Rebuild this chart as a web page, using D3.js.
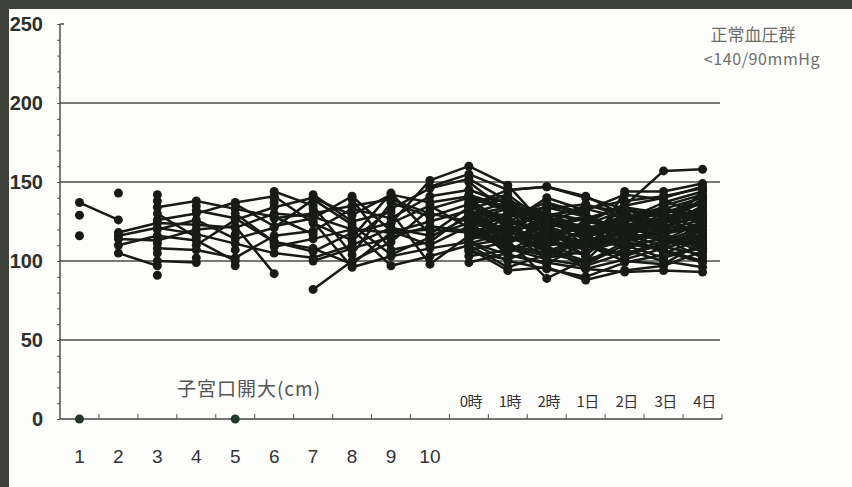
<!DOCTYPE html>
<html>
<head>
<meta charset="utf-8">
<script src="https://cdn.jsdelivr.net/npm/d3@7/dist/d3.min.js"></script>
<style>
  html, body { margin: 0; padding: 0; background: #fdfdfc; }
  svg { display: block; }
</style>
</head>
<body>
<svg id="chart" width="852" height="487"></svg>
<script>
// Categories: cervical dilation (cm) during labour, then hours / days after delivery
const dilationLabels = ["1", "2", "3", "4", "5", "6", "7", "8", "9", "10"];
const postpartumLabels = ["0時", "1時", "2時", "1日", "2日", "3日", "4日"];
const categories = dilationLabels.concat(postpartumLabels);

const yTicks = [0, 50, 100, 150, 200, 250];
const gridValues = [50, 100, 150, 200];

// Blood pressure per patient, labour readings (cm 1–10) followed by postpartum readings
const labourPatients = [
  [137, 126, null, null, null, null, null, null, null, null,  null, null, null, null, null, null, null],
  [129, null, null, null, null, null, null, null, null, null,  null, null, null, null, null, null, null],
  [116, null, null, null, null, null, null, null, null, null,  null, null, null, null, null, null, null],
  [0, null, null, null, null, null, null, null, null, null,  null, null, null, null, null, null, null],
  [null, 143, null, null, null, null, null, null, null, null,  null, null, null, null, null, null, null],
  [null, 118, 124, 123, 121, 130, 128, 120, 118, 125,  132, 125, 118, 120, 122, 126, 130],
  [null, 116, 121, 117, 111, 105, 102, 110, 121, 116,  124, 118, 112, 108, 115, 117, 122],
  [null, 114, 113, 120, 122, 92, null, null, null, null,  null, null, null, null, null, null, null],
  [null, 110, 116, 113, 100, null, null, null, null, null,  null, null, null, null, null, null, null],
  [null, 105, 97, null, null, null, null, null, null, null,  null, null, null, null, null, null, null],
  [null, null, 142, null, null, null, null, null, null, null,  null, null, null, null, null, null, null],
  [null, null, 126, 130, 137, 141, 124, 113, 133, 146,  152, 138, 130, 126, 135, 140, 147],
  [null, null, 120, 126, 114, 121, 139, 123, 104, 115,  128, 116, 110, 112, 118, 113, 125],
  [null, null, 108, 107, 102, 116, 119, 133, 127, 141,  145, 137, 125, 119, 129, 121, 135],
  [null, null, null, 132, 127, 112, 108, 98, 118, 120,  118, 108, 101, 97, 105, 110, 117],
  [null, null, null, null, 136, 122, 127, 141, 119, 110,  122, 130, 134, 128, 120, 124, 131],
  [null, null, null, null, null, 144, 135, 104, 137, 128,  136, 142, 124, 118, 113, 129, 120],
  [null, null, null, null, null, null, 82, 100, 112, 133,  140, 121, 113, 104, 126, 133, 140],
  [null, null, null, null, null, 109, 114, 120, 97, 103,  110, 96, 104, 115, 111, 107, 100],
  [null, null, null, null, null, null, 142, 125, 131, 98,  116, 124, 140, 132, 142, 139, 128],
  [null, null, null, null, null, null, 100, 108, 115, 122,  119, 112, 126, 122, 108, 115, 110],
  [null, null, null, null, null, null, null, 139, 107, 112,  130, 119, 108, 100, 124, 118, 145],
  [null, null, 134, 138, 133, 128, 117, null, null, null,  null, null, null, null, null, null, null],
  [null, null, 100, 99, null, null, null, null, null, null,  null, null, null, null, null, null, null],
  [null, null, 130, 115, null, null, null, null, null, null,  null, null, null, null, null, null, null],
  [null, null, null, 110, 126, 134, 140, 129, 142, 137,  141, 133, 127, 135, 131, 120, 126],
  [null, null, null, null, 97, null, null, null, null, null,  null, null, null, null, null, null, null],
  [null, null, null, null, 130, 112, 106, 118, 124, 151,  160, 148, 121, 110, 100, 98, 112],
  [null, null, null, null, null, 140, null, null, null, null,  null, null, null, null, null, null, null],
  [null, null, null, null, null, 127, 130, 135, 139, 130,  125, 104, 98, 112, 119, 126, 118],
  [null, null, null, null, null, null, 125, 96, 103, 108,  112, 100, 95, 90, 99, 104, 108],
  [null, null, null, null, null, null, null, 115, 143, 117,  134, 127, 115, 124, 136, 112, 122],
  [null, null, null, null, null, null, null, null, 124, 135,  121, 115, 136, 129, 116, 131, 137],
  [null, null, null, null, null, null, null, null, null, 147,  155, 145, 147, 140, 133, 128, 126],
  [null, null, 91, null, null, null, null, null, null, null,  null, null, null, null, null, null, null],
  [null, null, 138, null, null, null, null, null, null, null,  null, null, null, null, null, null, null],
  [null, null, null, null, 0, null, null, null, null, null,  null, null, null, null, null, null, null],
  [null, null, 111, null, 107, null, null, null, null, null,  null, null, null, null, null, null, null],
  [null, null, 105, null, 117, null, 133, null, null, null,  null, null, null, null, null, null, null],
  [null, null, null, 135, null, 137, null, null, null, null,  null, null, null, null, null, null, null],
  [null, null, null, 102, null, 111, null, null, null, null,  null, null, null, null, null, null, null]
];

// Postpartum-only readings (0時 … 4日)
const postpartumPatients = [
  [128, 120, 115, 112, 135, 157, 158],
  [135, 145, 147, 141, 129, 125, 131],
  [122, 115, 108, 104, 144, 144, 149],
  [118, 110, 105, 99, 112, 118, 124],
  [131, 126, 119, 116, 121, 126, 139],
  [112, 104, 99, 95, 101, 108, 115],
  [140, 132, 126, 120, 118, 122, 128],
  [125, 130, 122, 114, 109, 114, 102],
  [108, 94, 96, 88, 94, 97, 106],
  [145, 136, 129, 133, 127, 119, 121],
  [116, 122, 130, 125, 120, 135, 142],
  [120, 113, 89, 101, 107, 100, 96],
  [138, 125, 118, 108, 114, 127, 133],
  [103, 107, 112, 118, 122, 116, 108],
  [127, 119, 133, 136, 128, 123, 117],
  [133, 140, 120, 110, 103, 111, 119],
  [114, 117, 102, 106, 113, 121, 129],
  [129, 112, 117, 123, 132, 128, 113],
  [150, 131, 124, 117, 125, 130, 136],
  [106, 101, 110, 95, 93, 94, 93],
  [121, 128, 137, 130, 117, 109, 104],
  [136, 123, 111, 119, 126, 137, 144],
  [110, 114, 121, 127, 134, 130, 124],
  [142, 134, 128, 121, 115, 106, 99],
  [124, 109, 103, 113, 119, 124, 134],
  [117, 127, 114, 107, 130, 117, 111],
  [99, 105, 116, 111, 104, 113, 120],
  [132, 118, 125, 133, 138, 141, 146],
  [126, 133, 107, 98, 110, 102, 109],
  [115, 120, 126, 116, 123, 127, 132],
  [119, 111, 123, 128, 116, 105, 114],
  [130, 137, 116, 121, 125, 132, 127],
  [113, 124, 129, 109, 118, 124, 138],
  [126, 116, 106, 115, 129, 119, 123],
  [134, 128, 131, 119, 112, 108, 116],
  [111, 118, 113, 124, 106, 121, 130],
  [123, 106, 120, 103, 127, 134, 125],
  [137, 121, 110, 126, 121, 115, 106],
  [107, 112, 124, 117, 133, 110, 119],
  [129, 134, 118, 111, 115, 129, 141]
];

const legendLines = ["正常血圧群", "<140/90mmHg"];
const axisTitle = "子宮口開大(cm)";

// ---- build the full series list (17 slots each) ----
const series = labourPatients.concat(
  postpartumPatients.map(p => new Array(dilationLabels.length).fill(null).concat(p))
);

const svg = d3.select("#chart");
const W = 852, H = 487;

// scanned-page backdrop: dark frame along top and left edges
svg.append("rect").attr("x", 0).attr("y", 0).attr("width", W).attr("height", H).attr("fill", "#fdfdfc");
svg.append("rect").attr("x", 0).attr("y", 0).attr("width", W).attr("height", 9).attr("fill", "#3f433c");
svg.append("rect").attr("x", 0).attr("y", 0).attr("width", 9).attr("height", H).attr("fill", "#3f433c");

const plot = { left: 60, right: 722, top: 24, bottom: 419 };

const x = d3.scaleBand().domain(categories).range([plot.left, plot.right]).paddingInner(0).paddingOuter(0);
const y = d3.scaleLinear().domain([0, 250]).range([plot.bottom, plot.top]);

const ink = "#171a16";
const gridColor = "#4a4d48";

// horizontal reference lines
svg.append("g").selectAll("line").data(gridValues).join("line")
  .attr("x1", plot.left).attr("x2", 720)
  .attr("y1", d => y(d)).attr("y2", d => y(d))
  .attr("stroke", gridColor).attr("stroke-width", 1.6);

// y axis with minor ticks every 10
const yAxis = d3.axisLeft(y).tickValues(d3.range(0, 251, 10)).tickSize(3).tickFormat("");
const gy = svg.append("g").attr("transform", `translate(${plot.left},0)`).call(yAxis);
gy.select(".domain").remove();
gy.selectAll(".tick line").attr("stroke", "#555").attr("stroke-width", 1).attr("x2", -3);
svg.append("line").attr("x1", plot.left).attr("x2", plot.left)
  .attr("y1", plot.top).attr("y2", plot.bottom).attr("stroke", "#444").attr("stroke-width", 1.4);
svg.append("line").attr("x1", plot.left).attr("x2", plot.left + 4)
  .attr("y1", plot.top).attr("y2", plot.top).attr("stroke", "#444").attr("stroke-width", 1.4);

// y tick labels
svg.append("g").selectAll("text").data(yTicks).join("text")
  .attr("x", 43).attr("y", d => y(d) + 7)
  .attr("text-anchor", "end")
  .attr("font-family", "'Liberation Sans Narrow', 'Liberation Sans', Arial, sans-serif")
  .attr("font-size", 20).attr("font-weight", "bold")
  .attr("fill", "#2d302b")
  .text(d => d);

// x axis: baseline with ticks on category boundaries
const boundaries = categories.map(c => x(c)).concat([plot.right]).slice(1);
svg.append("line").attr("x1", plot.left).attr("x2", plot.right)
  .attr("y1", plot.bottom).attr("y2", plot.bottom).attr("stroke", "#444").attr("stroke-width", 1.4);
svg.append("g").selectAll("line").data(boundaries).join("line")
  .attr("x1", d => d).attr("x2", d => d)
  .attr("y1", plot.bottom).attr("y2", plot.bottom - 5)
  .attr("stroke", "#555").attr("stroke-width", 1);

// dilation labels below the axis
svg.append("g").selectAll("text").data(dilationLabels).join("text")
  .attr("x", d => x(d) + x.bandwidth() / 2).attr("y", 463)
  .attr("text-anchor", "middle")
  .attr("font-family", "'Liberation Sans Narrow', 'Liberation Sans', Arial, sans-serif")
  .attr("font-size", 19)
  .attr("fill", "#333")
  .text(d => d);

// postpartum labels above the axis
svg.append("g").selectAll("text").data(postpartumLabels).join("text")
  .attr("x", d => x(d) + x.bandwidth() / 2 + 2).attr("y", 407)
  .attr("text-anchor", "middle")
  .attr("font-family", "'Noto Sans CJK JP', sans-serif")
  .attr("font-size", 15)
  .attr("letter-spacing", -0.5)
  .attr("fill", "#333")
  .text(d => d);

// axis title
svg.append("text").attr("x", 249).attr("y", 396)
  .attr("text-anchor", "middle")
  .attr("font-family", "'Noto Sans CJK JP', sans-serif")
  .attr("font-size", 19).attr("letter-spacing", 1).attr("fill", "#555")
  .text(axisTitle);

// legend note
svg.append("g").selectAll("text").data(legendLines).join("text")
  .attr("x", (d, i) => i === 0 ? 753 : 762)
  .attr("y", (d, i) => i === 0 ? 41 : 65)
  .attr("text-anchor", "middle")
  .attr("font-family", "'Noto Sans CJK JP', sans-serif")
  .attr("font-size", (d, i) => i === 0 ? 17 : 16)
  .attr("letter-spacing", (d, i) => i === 0 ? 0 : 0.6)
  .attr("fill", "#6d6f6b")
  .text(d => d);

// patient trajectories
const cx = i => x(categories[i]) + x.bandwidth() / 2;
const line = d3.line()
  .defined(d => d != null)
  .x((d, i) => cx(i))
  .y(d => y(d));

svg.append("g").selectAll("path").data(series).join("path")
  .attr("d", d => line(d))
  .attr("fill", "none")
  .attr("stroke", ink)
  .attr("stroke-width", 2.5)
  .attr("stroke-linejoin", "round");

const points = [];
series.forEach(s => s.forEach((v, i) => { if (v != null) points.push({ i, v }); }));
svg.append("g").selectAll("circle").data(points).join("circle")
  .attr("cx", d => cx(d.i))
  .attr("cy", d => y(d.v))
  .attr("r", 4.5)
  .attr("fill", d => d.v === 0 ? "#1f3a27" : ink);
</script>
</body>
</html>
